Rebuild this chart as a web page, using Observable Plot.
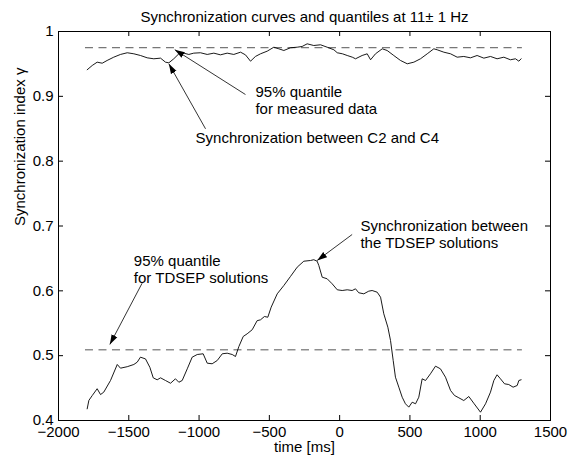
<!DOCTYPE html>
<html><head><meta charset="utf-8">
<script src="https://cdn.jsdelivr.net/npm/d3@7"></script>
<script src="https://cdn.jsdelivr.net/npm/@observablehq/plot@0.6"></script>
<style>body{margin:0;background:#fff} svg{display:block}</style>
</head><body><div id="chart"></div>
<script>
const title = "Synchronization curves and quantiles at 11\u00b1 1 Hz";
const xLabel = "time [ms]";
const yLabel = "Synchronization index \u03b3";
const xTicks = [-2000, -1500, -1000, -500, 0, 500, 1000, 1500];
const xTickLabels = ["\u22122000", "\u22121500", "\u22121000", "\u2212500", "0", "500", "1000", "1500"];
const yTicks = [0.4, 0.5, 0.6, 0.7, 0.8, 0.9, 1];
const yTickLabels = ["0.4", "0.5", "0.6", "0.7", "0.8", "0.9", "1"];

// Synchronization between C2 and C4 (measured data)
const c24Time = [-1796,-1760,-1725,-1689,-1654,-1607,-1559,-1511,-1464,-1417,-1369,-1322,-1274,-1239,-1215,-1180,-1144,-1109,-1073,-1038,-990,-942,-895,-848,-800,-753,-705,-670,-634,-599,-563,-515,-468,-433,-397,-350,-302,-267,-231,-184,-136,-89,-41,-17,20,54,90,113,160,196,220,255,303,338,385,433,481,528,575,623,670,694,741,789,836,883,931,978,1026,1073,1120,1168,1215,1251,1275,1291];
const c24Sync = [0.941,0.9476,0.9527,0.9511,0.9553,0.9604,0.9646,0.9672,0.9656,0.963,0.9594,0.9579,0.9589,0.9527,0.9517,0.9579,0.9656,0.9666,0.9646,0.9666,0.9672,0.9646,0.9666,0.964,0.9666,0.9646,0.9681,0.964,0.9542,0.9615,0.9656,0.9697,0.9758,0.9733,0.9707,0.9749,0.9758,0.9769,0.981,0.9784,0.9795,0.9758,0.9718,0.9672,0.9656,0.963,0.9604,0.9579,0.963,0.9656,0.9564,0.9656,0.9733,0.9707,0.963,0.9553,0.9502,0.9527,0.9579,0.9656,0.9733,0.9718,0.9681,0.9656,0.9604,0.9615,0.9594,0.963,0.9589,0.9615,0.9579,0.9604,0.9564,0.9579,0.9542,0.9579];

// Synchronization between the TDSEP solutions
const tdsepTime = [-1796,-1784,-1760,-1725,-1701,-1678,-1630,-1582,-1559,-1511,-1464,-1440,-1417,-1381,-1350,-1326,-1298,-1274,-1239,-1203,-1168,-1144,-1120,-1084,-1049,-1013,-971,-942,-907,-871,-835,-800,-764,-741,-717,-686,-658,-622,-587,-563,-535,-511,-487,-444,-397,-350,-302,-255,-207,-184,-160,-148,-124,-89,-53,-17,18,54,89,113,136,172,207,231,267,291,314,343,362,381,397,421,445,468,492,516,540,563,587,611,646,682,717,753,789,817,848,883,919,954,1002,1038,1073,1097,1120,1144,1173,1203,1234,1263,1275,1291];
const tdsepSync = [0.418,0.431,0.4385,0.449,0.440,0.4437,0.4617,0.4864,0.4807,0.483,0.4864,0.49,0.4977,0.495,0.482,0.4658,0.4628,0.4658,0.4617,0.4575,0.4643,0.459,0.4617,0.4797,0.4977,0.5018,0.5029,0.4884,0.4875,0.4925,0.5029,0.5038,0.5018,0.4987,0.514,0.5296,0.5337,0.540,0.554,0.5553,0.5604,0.5593,0.5748,0.5954,0.6082,0.6221,0.6365,0.6457,0.6468,0.648,0.6457,0.639,0.621,0.6186,0.6108,0.6016,0.6005,0.6016,0.6005,0.6031,0.597,0.5954,0.5995,0.6005,0.5979,0.5902,0.5646,0.5439,0.5234,0.4925,0.4668,0.4514,0.4359,0.4258,0.4206,0.4282,0.4258,0.4359,0.4643,0.4617,0.472,0.4838,0.4797,0.4668,0.4463,0.4386,0.435,0.4308,0.437,0.4267,0.4128,0.4258,0.4437,0.4617,0.4705,0.4643,0.4566,0.4555,0.4514,0.454,0.4617,0.4628];

// 95% quantiles
const quantileValues = [0.975, 0.509];
const quantileStart = [-1808, -1808];
const quantileEnd = [1300, 1300];

// annotations: text block (left, centre) and arrow tail -> tip
const noteLines = [["95% quantile", "for measured data"], ["Synchronization between C2 and C4"], ["95% quantile", "for TDSEP solutions"], ["Synchronization between", "the TDSEP solutions"]];
const noteX = [-599, -1025, -1464, 148];
const noteY = [0.8943, 0.836, 0.6334, 0.6877];
const arrowX1 = [-670, -954, -1405, 89];
const arrowY1 = [0.9028, 0.8499, 0.6118, 0.6869];
const arrowX2 = [-1173, -1215, -1635, -160];
const arrowY2 = [0.972, 0.9502, 0.5172, 0.6468];

const c24 = c24Time.map((t, i) => ({t, v: c24Sync[i]}));
const tdsep = tdsepTime.map((t, i) => ({t, v: tdsepSync[i]}));
const quantiles = quantileValues.map((v, i) => ({v, x1: quantileStart[i], x2: quantileEnd[i]}));
const notes = noteLines.map((lines, i) => ({text: lines.join("\n"), x: noteX[i], y: noteY[i], x1: arrowX1[i], y1: arrowY1[i], x2: arrowX2[i], y2: arrowY2[i]}));

function filledArrow(color) {
  const ns = "http://www.w3.org/2000/svg";
  const m = document.createElementNS(ns, "marker");
  m.setAttribute("viewBox", "-10 -4 10 8");
  m.setAttribute("markerWidth", 10);
  m.setAttribute("markerHeight", 8);
  m.setAttribute("markerUnits", "userSpaceOnUse");
  m.setAttribute("orient", "auto");
  m.setAttribute("refX", 0);
  m.setAttribute("refY", 0);
  const p = document.createElementNS(ns, "path");
  p.setAttribute("d", "M-10,-3.2L0,0L-10,3.2Z");
  p.setAttribute("fill", color);
  p.setAttribute("stroke", "none");
  m.appendChild(p);
  return m;
}

const W = 574, H = 455, mt = 31, mr = 24, mb = 35, ml = 58;
const fw = W - ml - mr, fh = H - mt - mb;

const chart = Plot.plot({
  width: W, height: H,
  marginTop: mt, marginRight: mr, marginBottom: mb, marginLeft: ml,
  style: {fontFamily: "'Liberation Sans', Arial, Helvetica, sans-serif", fontSize: "15px", color: "black", background: "white"},
  x: {domain: [-2000, 1500], axis: null},
  y: {domain: [0.4, 1], axis: null},
  marks: [
    Plot.ruleY(quantiles, {y: "v", x1: "x1", x2: "x2", stroke: "#555", strokeWidth: 1, strokeDasharray: "8,5.5"}),
    Plot.line(c24, {x: "t", y: "v", stroke: "black", strokeWidth: 0.9}),
    Plot.line(tdsep, {x: "t", y: "v", stroke: "black", strokeWidth: 0.9}),
    Plot.frame({stroke: "black", strokeWidth: 1}),
    Plot.tickX(xTicks, {x: d => d, insetTop: fh - 5, stroke: "black"}),
    Plot.tickX(xTicks, {x: d => d, insetBottom: fh - 5, stroke: "black"}),
    Plot.tickY(yTicks, {y: d => d, insetRight: fw - 5, stroke: "black"}),
    Plot.tickY(yTicks, {y: d => d, insetLeft: fw - 5, stroke: "black"}),
    Plot.axisX({ticks: xTicks, tickFormat: d => xTickLabels[xTicks.indexOf(d)], tickSize: 0, tickPadding: 6, label: null}),
    Plot.axisY({ticks: yTicks, tickFormat: d => yTickLabels[yTicks.indexOf(d)], tickSize: 0, tickPadding: 5, label: null}),
    Plot.link(notes, {x1: "x1", y1: "y1", x2: "x2", y2: "y2", stroke: "black", strokeWidth: 0.8, markerEnd: filledArrow}),
    Plot.text(notes, {x: "x", y: "y", text: "text", textAnchor: "start", lineAnchor: "middle", lineHeight: 1.15, fill: "black"}),
    Plot.text([title], {text: d => d, frameAnchor: "top", dy: -14, lineAnchor: "middle", fill: "black"}),
    Plot.text([xLabel], {text: d => d, frameAnchor: "bottom", dy: 27, lineAnchor: "middle", fill: "black"}),
    Plot.text([yLabel], {text: d => d, frameAnchor: "left", dx: -38, rotate: -90, lineAnchor: "middle", fill: "black"})
  ]
});
document.getElementById("chart").appendChild(chart);
</script>
</body></html>
